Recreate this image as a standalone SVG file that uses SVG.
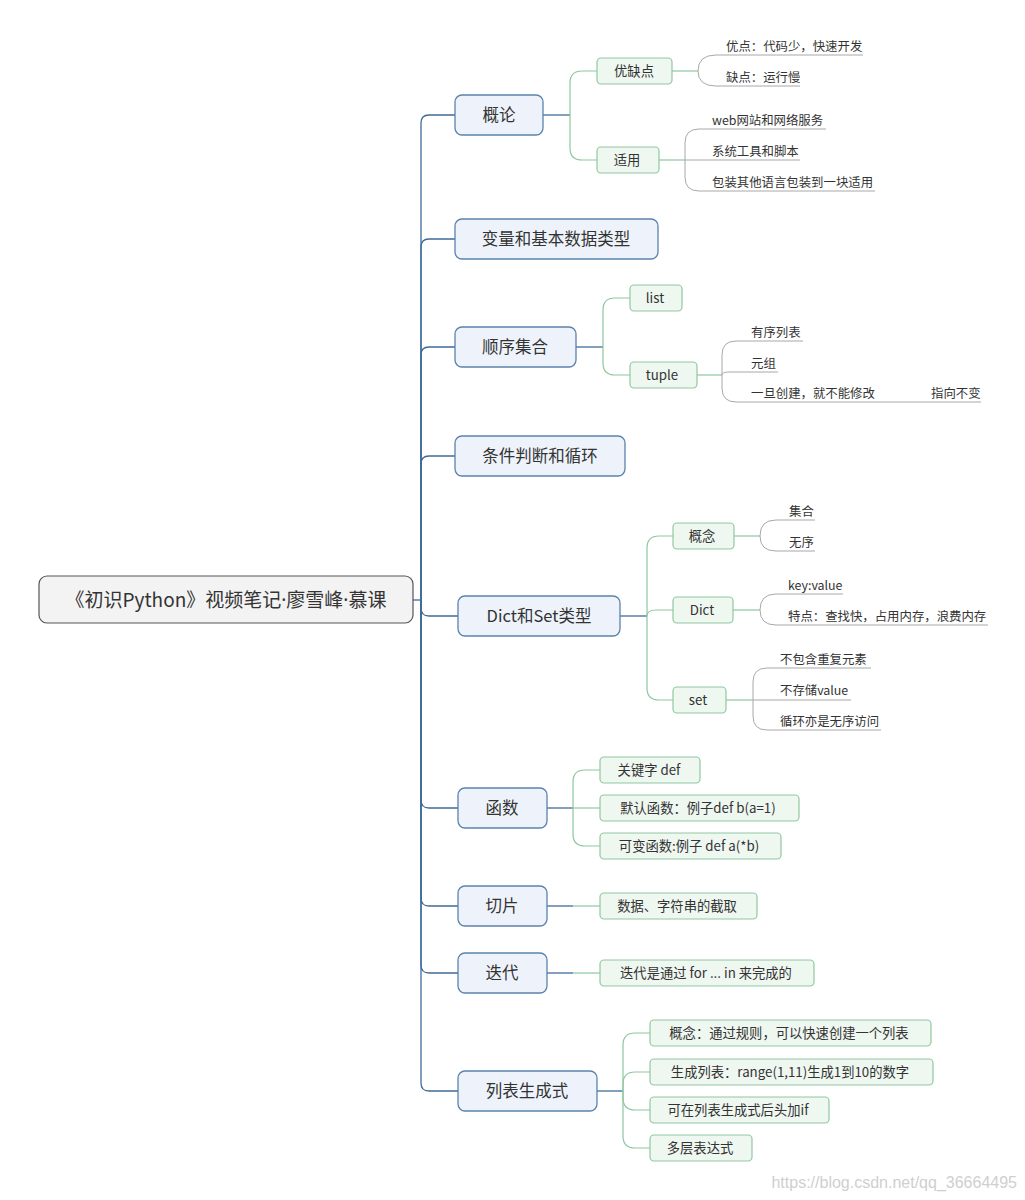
<svg xmlns="http://www.w3.org/2000/svg" width="1025" height="1200" viewBox="0 0 1025 1200">
<style>
text{font-family:"Microsoft YaHei","Noto Sans CJK SC","Noto Sans",sans-serif;fill:#333}
.root rect{fill:#f3f3f3;stroke:#555;stroke-width:1.2}
.root text{font-size:19px;text-anchor:middle}
.dot{font-family:"Noto Sans",sans-serif}
.main rect{fill:#eef3fb;stroke:#5b83ad;stroke-width:1.3}
.main text{font-size:16.5px;text-anchor:middle}
.sub rect{fill:#eef7f0;stroke:#91c8a0;stroke-width:1.2}
.sub text{font-size:13.3px;text-anchor:middle}
.leaf text{font-size:12.4px}
.c path{fill:none}
.b{stroke:#3f6b9b;stroke-width:1.3}
.g{stroke:#8ec79e;stroke-width:1.2}
.y{stroke:#a8a8a8;stroke-width:1}
.wm{font-family:"Liberation Sans",Arial,sans-serif;font-size:16px;fill:#cfcfcf;text-anchor:end}
</style>
<rect width="1025" height="1200" fill="#fff"/>
<g id="connectors" class="c">
<path class="b" d="M413,600H421"/>
<path class="b" d="M421,600V123Q421,115 429,115H455"/>
<path class="b" d="M421,600V247Q421,239 429,239H455"/>
<path class="b" d="M421,600V355Q421,347 429,347H455"/>
<path class="b" d="M421,600V464Q421,456 429,456H455"/>
<path class="b" d="M421,600V608Q421,616 429,616H458"/>
<path class="b" d="M421,600V800Q421,808 429,808H458"/>
<path class="b" d="M421,600V898Q421,906 429,906H458"/>
<path class="b" d="M421,600V965Q421,973 429,973H458"/>
<path class="b" d="M421,600V1083Q421,1091 429,1091H458"/>
<path class="b" d="M543,115H570"/>
<path class="g" d="M570,115V83Q570,71 582,71H597"/>
<path class="g" d="M570,115V148Q570,160 582,160H597"/>
<path class="b" d="M576,347H603"/>
<path class="g" d="M603,347V310Q603,298 615,298H630"/>
<path class="g" d="M603,347V363Q603,375 615,375H630"/>
<path class="b" d="M620,616H647"/>
<path class="g" d="M647,616V548Q647,536 659,536H673"/>
<path class="g" d="M647,616C647,612 650,610 656,610H673"/>
<path class="g" d="M647,616V688Q647,700 659,700H673"/>
<path class="b" d="M547,808H573"/>
<path class="g" d="M573,808V782Q573,770 585,770H600"/>
<path class="g" d="M573,808H600"/>
<path class="g" d="M573,808V834Q573,846 585,846H600"/>
<path class="b" d="M547,906H573"/>
<path class="g" d="M573,906H600"/>
<path class="b" d="M547,973H573"/>
<path class="g" d="M573,973H600"/>
<path class="b" d="M597,1091H623"/>
<path class="g" d="M623,1091V1045Q623,1033 635,1033H650"/>
<path class="g" d="M623,1091V1084Q623,1072 635,1072H650"/>
<path class="g" d="M623,1091V1098Q623,1110 635,1110H650"/>
<path class="g" d="M623,1091V1136Q623,1148 635,1148H650"/>
<path class="g" d="M672,71H698"/>
<path class="y" d="M698,71Q698,55 716,55H863"/>
<path class="y" d="M698,71Q698,86 716,86H800"/>
<path class="g" d="M659,160H685"/>
<path class="y" d="M685,160V143Q685,129 699,129H826"/>
<path class="y" d="M685,160H800"/>
<path class="y" d="M685,160V177Q685,191 699,191H875"/>
<path class="g" d="M697,375H722"/>
<path class="y" d="M722,375V355Q722,341 736,341H803"/>
<path class="y" d="M722,375C722,373 724,372 730,372H778"/>
<path class="y" d="M722,375V388Q722,402 736,402H981"/>
<path class="g" d="M734,536H760"/>
<path class="y" d="M760,536Q760,520 776,520H815"/>
<path class="y" d="M760,536Q760,551 776,551H815"/>
<path class="g" d="M733,610H760"/>
<path class="y" d="M760,610Q760,594 776,594H843"/>
<path class="y" d="M760,610Q760,625 776,625H988"/>
<path class="g" d="M726,700H753"/>
<path class="y" d="M753,700V682Q753,668 767,668H871"/>
<path class="y" d="M753,700H851"/>
<path class="y" d="M753,700V716Q753,730 767,730H881"/>
</g>
<g id="root" class="root"><rect x="39" y="576" width="374" height="47" rx="8"/><text x="226" y="607">《初识Python》视频笔记<tspan class="dot">·</tspan>廖雪峰<tspan class="dot">·</tspan>慕课</text></g>
<g id="n-gailun" class="main"><rect x="455" y="95" width="88" height="40" rx="7"/><text x="499" y="121">概论</text></g>
<g id="n-bianliang" class="main"><rect x="455" y="219" width="203" height="40" rx="7"/><text x="556" y="245">变量和基本数据类型</text></g>
<g id="n-shunxu" class="main"><rect x="455" y="327" width="121" height="40" rx="7"/><text x="515" y="353">顺序集合</text></g>
<g id="n-tiaojian" class="main"><rect x="455" y="436" width="170" height="40" rx="7"/><text x="540" y="462">条件判断和循环</text></g>
<g id="n-dictset" class="main"><rect x="458" y="596" width="162" height="40" rx="7"/><text x="539" y="622">Dict和Set类型</text></g>
<g id="n-hanshu" class="main"><rect x="458" y="788" width="89" height="40" rx="7"/><text x="502" y="814">函数</text></g>
<g id="n-qiepian" class="main"><rect x="458" y="886" width="89" height="40" rx="7"/><text x="502" y="912">切片</text></g>
<g id="n-diedai" class="main"><rect x="458" y="953" width="89" height="40" rx="7"/><text x="502" y="979">迭代</text></g>
<g id="n-liebiao" class="main"><rect x="458" y="1071" width="139" height="40" rx="7"/><text x="527" y="1097">列表生成式</text></g>
<g id="s-youque" class="sub"><rect x="597" y="58" width="75" height="26" rx="4"/><text x="634" y="76">优缺点</text></g>
<g id="s-shiyong" class="sub"><rect x="597" y="147" width="62" height="26" rx="4"/><text x="627" y="165">适用</text></g>
<g id="s-list" class="sub"><rect x="630" y="285" width="52" height="26" rx="4"/><text x="655" y="303">list</text></g>
<g id="s-tuple" class="sub"><rect x="630" y="362" width="67" height="26" rx="4"/><text x="662" y="380">tuple</text></g>
<g id="s-gainian" class="sub"><rect x="673" y="523" width="61" height="26" rx="4"/><text x="702" y="541">概念</text></g>
<g id="s-dict" class="sub"><rect x="673" y="597" width="60" height="26" rx="4"/><text x="702" y="615">Dict</text></g>
<g id="s-set" class="sub"><rect x="673" y="687" width="53" height="26" rx="4"/><text x="698" y="705">set</text></g>
<g id="s-def" class="sub"><rect x="600" y="757" width="100" height="26" rx="4"/><text x="649" y="775">关键字 def</text></g>
<g id="s-moren" class="sub"><rect x="600" y="795" width="199" height="26" rx="4"/><text x="698" y="813">默认函数：例子def b(a=1)</text></g>
<g id="s-kebian" class="sub"><rect x="600" y="833" width="181" height="26" rx="4"/><text x="689" y="851">可变函数:例子 def a(*b)</text></g>
<g id="s-shuju" class="sub"><rect x="600" y="893" width="157" height="26" rx="4"/><text x="677" y="911">数据、字符串的截取</text></g>
<g id="s-diedaifor" class="sub"><rect x="600" y="960" width="214" height="26" rx="4"/><text x="706" y="978">迭代是通过 for ... in 来完成的</text></g>
<g id="s-lb1" class="sub"><rect x="650" y="1020" width="281" height="26" rx="4"/><text x="789" y="1038">概念：通过规则，可以快速创建一个列表</text></g>
<g id="s-lb2" class="sub"><rect x="650" y="1059" width="283" height="26" rx="4"/><text x="790" y="1077">生成列表：range(1,11)生成1到10的数字</text></g>
<g id="s-lb3" class="sub"><rect x="650" y="1097" width="179" height="26" rx="4"/><text x="738" y="1115">可在列表生成式后头加if</text></g>
<g id="s-lb4" class="sub"><rect x="650" y="1135" width="102" height="26" rx="4"/><text x="700" y="1153">多层表达式</text></g>
<g id="leaves" class="leaf">
<text x="726" y="51">优点：代码少，快速开发</text>
<text x="726" y="82">缺点：运行慢</text>
<text x="712" y="125">web网站和网络服务</text>
<text x="712" y="156">系统工具和脚本</text>
<text x="712" y="187">包装其他语言包装到一块适用</text>
<text x="751" y="337">有序列表</text>
<text x="751" y="368">元组</text>
<text x="751" y="398">一旦创建，就不能修改</text>
<text x="931" y="398">指向不变</text>
<text x="789" y="516">集合</text>
<text x="789" y="547">无序</text>
<text x="788" y="590">key:value</text>
<text x="788" y="621">特点：查找快，占用内存，浪费内存</text>
<text x="780" y="664">不包含重复元素</text>
<text x="780" y="695">不存储value</text>
<text x="780" y="726">循环亦是无序访问</text>
</g>
<text class="wm" x="1017" y="1188">https://blog.csdn.net/qq_36664495</text>
</svg>
